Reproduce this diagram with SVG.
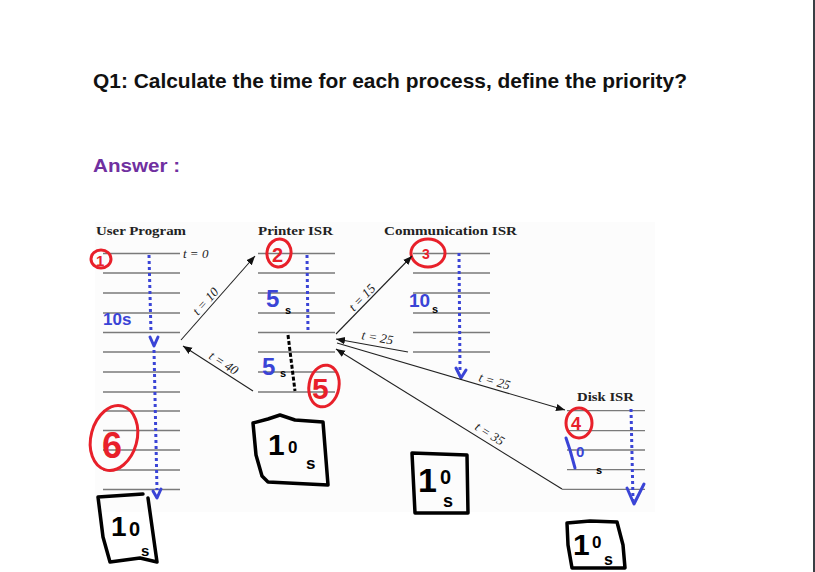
<svg xmlns="http://www.w3.org/2000/svg" width="815" height="572" viewBox="0 0 815 572">
<defs>
<marker id="ah" viewBox="0 0 10 10" refX="10" refY="5" markerWidth="9" markerHeight="9" markerUnits="userSpaceOnUse" orient="auto">
<path d="M0,1 L10,5 L0,9 Z" fill="#111"/>
</marker>
</defs>
<style>
.title{font-family:"Liberation Sans",Arial,sans-serif;font-weight:bold;font-size:21px;fill:#111}
.ans{font-family:"Liberation Sans",Arial,sans-serif;font-weight:bold;font-size:19px;fill:#7030a0}
.col{font-family:"Liberation Serif","Times New Roman",serif;font-weight:bold;font-size:11.5px;fill:#222}
.tl{font-family:"Liberation Serif","Times New Roman",serif;font-style:italic;font-size:13px;fill:#222}
.ln{stroke:#7a7a7a;stroke-width:1.3}
.conn{stroke:#222;stroke-width:1.1;fill:none;marker-end:url(#ah)}
.bd{stroke:#3a44d6;stroke-width:3;stroke-dasharray:3 3;fill:none}
.bs{stroke:#3a44d6;stroke-width:3;fill:none;stroke-linecap:round;stroke-linejoin:round}
.red{stroke:#e8202a;stroke-width:3;fill:none}
.rt{font-family:"Liberation Sans",Arial,sans-serif;font-weight:bold;fill:#e8202a}
.bt{font-family:"Liberation Sans",Arial,sans-serif;font-weight:bold;fill:#3a44d6}
.kt{font-family:"Liberation Sans",Arial,sans-serif;font-weight:bold;fill:#000}
.box{stroke:#000;stroke-width:3.5;fill:none;stroke-linejoin:round;stroke-linecap:round}
</style>
<rect width="815" height="572" fill="#fff"/>
<rect x="813" y="0" width="2" height="572" fill="#3a3f44"/>
<text class="title" x="93" y="88" textLength="594" lengthAdjust="spacingAndGlyphs">Q1: Calculate the time for each process, define the priority?</text>
<text class="ans" x="93" y="172" textLength="87" lengthAdjust="spacingAndGlyphs">Answer :</text>
<rect x="95" y="222" width="560" height="290" fill="#fcfcfc"/>

<g id="user-program">
<text class="col" x="96" y="235" textLength="90" lengthAdjust="spacingAndGlyphs">User Program</text>
<g class="ln">
<line x1="103" y1="253.5" x2="180" y2="253.5"/><line x1="103" y1="273" x2="180" y2="273"/><line x1="103" y1="293" x2="180" y2="293"/><line x1="103" y1="313" x2="180" y2="313"/><line x1="103" y1="332.5" x2="180" y2="332.5"/><line x1="103" y1="352" x2="180" y2="352"/><line x1="103" y1="372" x2="180" y2="372"/><line x1="103" y1="392" x2="180" y2="392"/><line x1="103" y1="411" x2="180" y2="411"/><line x1="103" y1="430.5" x2="180" y2="430.5"/><line x1="103" y1="450" x2="180" y2="450"/><line x1="103" y1="470" x2="180" y2="470"/><line x1="103" y1="489.5" x2="180" y2="489.5"/>
</g>
<text class="tl" x="183" y="257.5">t = 0</text>
<path class="bd" d="M149,255 L151,333"/>
<path class="bs" d="M150,337 L154,346 L158,337"/>
<path class="bd" d="M154,350 L157,490"/>
<path class="bs" d="M153,491 L157,498 L161,489"/>
<ellipse class="red" cx="101" cy="259" rx="10" ry="9"/>
<text class="rt" x="96" y="266" font-size="15">1</text>
<text class="bt" x="103" y="325" font-size="17">10s</text>
<ellipse class="red" cx="114" cy="438" rx="23" ry="33" transform="rotate(15 114 438)"/>
<text class="rt" x="102" y="458" font-size="36">6</text>
<path class="box" d="M143,494 L98,497 L103,537 L110,562 L140,558 L157,562 L148,498"/>
<text class="kt" x="111" y="536" font-size="28">1</text>
<text class="kt" x="129" y="536" font-size="20">0</text>
<text class="kt" x="141" y="556" font-size="15">s</text>
</g>

<g id="printer-isr">
<text class="col" x="258" y="235" textLength="75" lengthAdjust="spacingAndGlyphs">Printer ISR</text>
<g class="ln">
<line x1="258" y1="253.5" x2="335" y2="253.5"/><line x1="258" y1="273" x2="335" y2="273"/><line x1="258" y1="293" x2="335" y2="293"/><line x1="258" y1="313" x2="335" y2="313"/><line x1="258" y1="332.5" x2="335" y2="332.5"/><line x1="258" y1="352" x2="335" y2="352"/><line x1="258" y1="372" x2="335" y2="372"/><line x1="258" y1="392" x2="335" y2="392"/>
</g>
<path class="bd" d="M307,255 L308,332"/>
<path d="M288,335 L295,391" stroke="#000" stroke-width="3" stroke-dasharray="4 2" fill="none"/>
<ellipse class="red" cx="279" cy="253" rx="12" ry="14" transform="rotate(10 279 253)"/>
<text class="rt" x="272" y="262" font-size="20">2</text>
<text class="bt" x="266" y="307" font-size="24">5</text>
<text class="kt" x="285" y="314" font-size="11">s</text>
<text class="bt" x="262" y="375" font-size="24">5</text>
<text class="kt" x="280" y="377" font-size="11">s</text>
<ellipse class="red" cx="324" cy="386" rx="15" ry="21" transform="rotate(10 324 386)"/>
<text class="rt" x="312" y="399" font-size="30">5</text>
<path class="box" d="M253,423 L268,419 L280,415 L295,420 L323,422 L328,485 L268,482 L262,476 L256,455 Z"/>
<text class="kt" x="268" y="455" font-size="30">1</text>
<text class="kt" x="288" y="453" font-size="17">0</text>
<text class="kt" x="306" y="469" font-size="17">s</text>
</g>

<g id="communication-isr">
<text class="col" x="384" y="235" textLength="133" lengthAdjust="spacingAndGlyphs">Communication ISR</text>
<g class="ln">
<line x1="413" y1="253.5" x2="490" y2="253.5"/><line x1="413" y1="273" x2="490" y2="273"/><line x1="413" y1="293" x2="490" y2="293"/><line x1="413" y1="313" x2="490" y2="313"/><line x1="413" y1="332.5" x2="490" y2="332.5"/><line x1="413" y1="352" x2="490" y2="352"/>
</g>
<path class="bd" d="M459,253 L460,370"/>
<path class="bs" d="M456,368 L461,378 L466,370"/>
<ellipse class="red" cx="428" cy="253" rx="17" ry="14"/>
<text class="rt" x="422" y="259" font-size="14">3</text>
<text class="bt" x="409" y="307" font-size="19">10</text>
<text class="kt" x="432" y="313" font-size="11">s</text>
<path class="box" d="M412,453 L467,455 L468,513 L415,513 Z"/>
<text class="kt" x="418" y="492" font-size="34">1</text>
<text class="kt" x="440" y="484" font-size="20">0</text>
<text class="kt" x="443" y="507" font-size="18">s</text>
</g>

<g id="disk-isr">
<text class="col" x="577" y="401" textLength="57" lengthAdjust="spacingAndGlyphs">Disk ISR</text>
<g class="ln">
<line x1="567" y1="410.7" x2="645" y2="410.7"/><line x1="567" y1="430.7" x2="645" y2="430.7"/><line x1="567" y1="450" x2="645" y2="450"/><line x1="567" y1="469.7" x2="645" y2="469.7"/><line x1="562" y1="489.3" x2="645" y2="489.3"/>
</g>
<path class="bd" d="M631,409 L633,500"/>
<path class="bs" d="M627,488 L634,504 L644,484"/>
<ellipse class="red" cx="579" cy="423" rx="13" ry="15"/>
<text class="rt" x="571" y="430" font-size="18">4</text>
<path class="bs" d="M566,438 L570,450 L575,468"/>
<text class="bt" x="576" y="457" font-size="15">0</text>
<text class="kt" x="596" y="474" font-size="11">s</text>
<path class="box" d="M567,523 L590,521 L617,522 L623,545 L625,568 L572,568 L568,545 Z"/>
<text class="kt" x="573" y="555" font-size="30">1</text>
<text class="kt" x="592" y="548" font-size="17">0</text>
<text class="kt" x="604" y="565" font-size="16">s</text>
</g>

<g id="connectors">
<path class="conn" d="M181,340 L255,256"/>
<text class="tl" transform="translate(198,316) rotate(-48)">t = 10</text>
<path class="conn" d="M253,391 L183,346"/>
<text class="tl" transform="translate(208,358) rotate(33)">t = 40</text>
<path class="conn" d="M336,334 L412,256"/>
<text class="tl" transform="translate(354,312) rotate(-46)">t = 15</text>
<path class="conn" d="M408,352 L336,339"/>
<text class="tl" transform="translate(361,339) rotate(10)">t = 25</text>
<path class="conn" d="M337,343 L565,410"/>
<text class="tl" transform="translate(478,381) rotate(16)">t = 25</text>
<path class="conn" d="M562,489 L336,349"/>
<text class="tl" transform="translate(474,429) rotate(32)">t = 35</text>
</g>
</svg>
